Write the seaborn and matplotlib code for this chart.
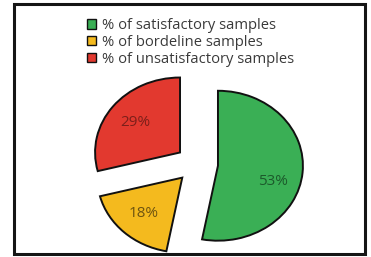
import matplotlib
matplotlib.use('Agg')
import numpy as np
import matplotlib.pyplot as plt
import matplotlib.patches as mpatches
import seaborn as sns

sns.set_theme(style='white')
plt.rcParams['font.family'] = ['Open Sans', 'DejaVu Sans']

# data
labels = ['% of satisfactory samples', '% of bordeline samples', '% of unsatisfactory samples']
shares = [53, 18, 29]
colors = ['#3aaf55', '#f4ba1e', '#e2392f']
pct_colors = ['#1c5a2b', '#6e5410', '#7c1f1a']

fig = plt.figure(figsize=(3.71, 2.57), dpi=100)
ax = fig.add_axes([0.187, 0.012, 0.687, 0.70])

wedges, texts, pcts = ax.pie(
    shares, colors=colors, startangle=90, counterclock=False,
    explode=[0.25, 0.25, 0.25], autopct=lambda p: f'{p:.0f}%', pctdistance=0.66,
    wedgeprops=dict(edgecolor='#111111', linewidth=1.4),
    textprops=dict(fontsize=11),
)
for t, c in zip(pcts, pct_colors):
    t.set_color(c)

# the green label sits a little below the wedge's middle angle in the original
cx, cy = wedges[0].center
ang = np.deg2rad(-18)
pcts[0].set_position((cx + 0.68 * np.cos(ang), cy + 0.68 * np.sin(ang)))

ax.set_aspect('auto')
ax.set_xlim(-1.5, 1.5)
ax.set_ylim(-1.2, 1.2)
ax.axis('off')

handles = [mpatches.Patch(facecolor=c, edgecolor='#111111', linewidth=1.0) for c in colors]
fig.legend(handles, labels, loc='upper left', bbox_to_anchor=(0.2186, 0.952),
           frameon=False, fontsize=10.6, handlelength=0.6, handleheight=0.6,
           handletextpad=0.4, labelspacing=0.12, borderaxespad=0,
           labelcolor='#3a3a3a')

# black frame around the picture
fig.patches.append(mpatches.Rectangle((14 / 371, 3 / 257), 351 / 371, 250 / 257,
                                      transform=fig.transFigure, fill=False,
                                      edgecolor='#151515', linewidth=2.2))

fig.savefig('out.png', dpi=100)
